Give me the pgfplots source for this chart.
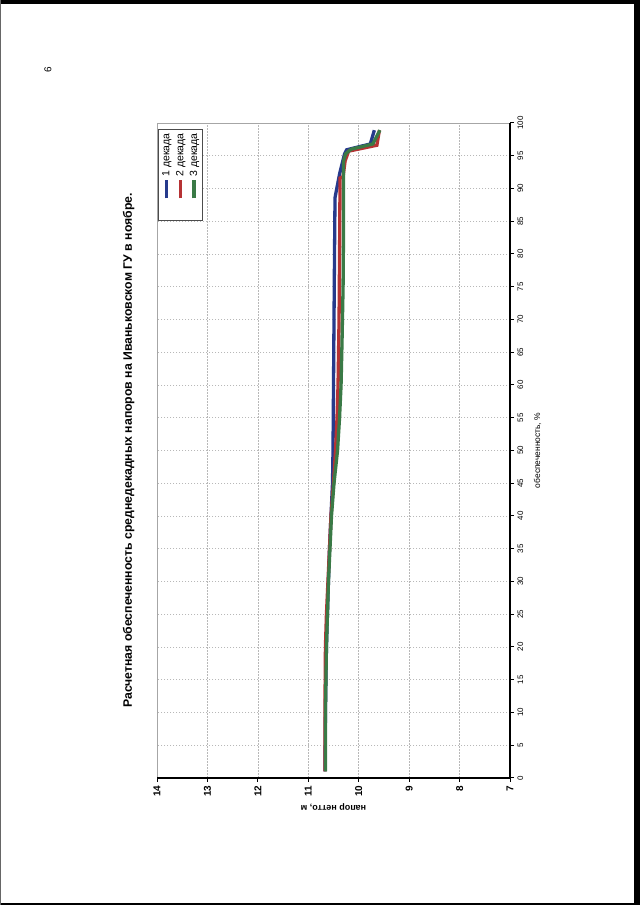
\documentclass[border=0pt]{standalone}
\usepackage{pgfplots}
\pgfplotsset{compat=1.18}
\usepackage{fontspec}
\setmainfont{Liberation Sans}
\definecolor{cblue}{RGB}{38,58,140}
\definecolor{cred}{RGB}{182,50,52}
\definecolor{cgreen}{RGB}{58,122,70}
\begin{document}
\begin{tikzpicture}[x=1bp,y=1bp]
\fill[white] (0,0) rectangle (640,905);
\fill[black] (0,901) rectangle (640,905);
\fill[black] (634,0) rectangle (640,905);
\fill[black] (0,0) rectangle (640,2);
\fill[black!60] (0,0) rectangle (1.5,905);
\node[rotate=90,font=\fontsize{10}{12}\selectfont] at (48,835) {6};
\begin{scope}[shift={(510,127)},rotate=90,transform shape]
\begin{axis}[
  at={(0,0)}, anchor=south west, scale only axis,
  width=655bp, height=353bp,
  xmin=0, xmax=100, ymin=7, ymax=14,
  xtick={0,5,...,100}, ytick={7,8,...,14},
  /pgf/number format/assume math mode=true,
  tick pos=left, tick align=outside,
  major tick length=4bp,
  tick style={black, line width=1bp},
  grid=major,
  grid style={dash pattern=on 1.5bp off 1.5bp, black!28, line width=0.5bp},
  axis line style={black!35, line width=0.6bp},
  xticklabel style={font=\fontsize{8}{9}\selectfont},
  yticklabel style={font=\bfseries\fontsize{10}{11}\selectfont},
  xlabel={обеспеченность, \%},
  xlabel style={font=\fontsize{8.5}{10}\selectfont, yshift=-4bp},
  ylabel={напор нетто, м},
  ylabel style={font=\bfseries\fontsize{9}{10}\selectfont},
  title={Расчетная обеспеченность среднедекадных напоров на Иваньковском ГУ в ноябре.},
  title style={font=\bfseries\fontsize{12.3}{14}\selectfont, yshift=13bp},
  legend style={at={(1,1)}, anchor=north east, xshift=-6bp, yshift=-1bp,
    draw=black!70, line width=0.6bp, font=\fontsize{10.5}{11}\selectfont,
    inner sep=2bp, row sep=1bp},
  legend cell align=left,
  legend image code/.code={\path (0bp,0bp); \draw[#1, line width=3.6bp] (18bp,0bp) -- (36bp,0bp);},
  after end axis/.code={
    \draw[black, line width=1.6bp] (rel axis cs:0,1) -- (rel axis cs:0,0) -- (rel axis cs:1,0);
  },
]
\addplot[cblue, line width=3.3bp] coordinates {
(1,10.67) (10,10.66) (20,10.64) (30,10.60) (35,10.58) (40,10.55) (45,10.52)
(50,10.51) (60,10.50) (70,10.49) (80,10.48) (88.6,10.47) (92.2,10.38)
(95.3,10.28) (95.9,10.24) (96.8,9.77) (98.9,9.69)};
\addlegendentry{1 декада}
\addplot[cred, line width=3.3bp] coordinates {
(1,10.67) (10,10.67) (20,10.66) (25,10.64) (30,10.61) (35,10.58) (40,10.55)
(45,10.50) (50,10.46) (55,10.43) (60,10.41) (70,10.39) (80,10.38) (91.6,10.37)
(91.8,10.31) (94.2,10.27) (95.7,10.20) (96.6,9.64) (98.9,9.59)};
\addlegendentry{2 декада}
\addplot[cgreen, line width=3.3bp] coordinates {
(1,10.66) (10,10.66) (20,10.64) (30,10.60) (35,10.57) (40,10.54) (45,10.49)
(50,10.42) (55,10.38) (60,10.35) (67,10.33) (75,10.31) (85,10.30) (94.2,10.30)
(95.3,10.26) (96,10.15) (96.8,9.72) (98.9,9.58)};
\addlegendentry{3 декада}
\end{axis}
\end{scope}
\end{tikzpicture}
\end{document}
